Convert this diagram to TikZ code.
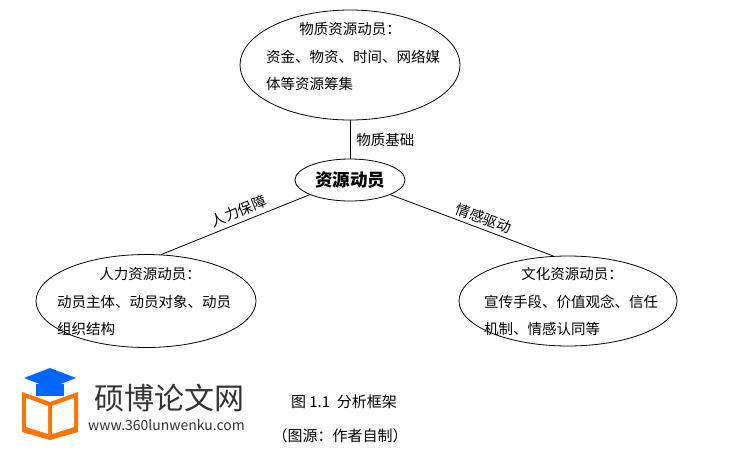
\documentclass[tikz,border=0pt]{standalone}
\usepackage{fontspec}
\setmainfont{Noto Sans CJK SC}
\usetikzlibrary{positioning,shapes.geometric}
\tikzset{res/.style={draw, thick, ellipse, inner sep=0pt}}
\tikzset{txt/.style={font=\fontsize{14.5pt}{16pt}\selectfont, inner sep=0pt, anchor=west}}
\tikzset{arr1/.style={draw, thick}}
\begin{document}
\begin{tikzpicture}[x=1pt,y=-1pt]
\useasboundingbox (0,0) rectangle (736,461);
\node[res, minimum width=220, minimum height=110] (M) at (350,65) {};
\node[res, minimum width=110, minimum height=42] (C) at (350,180) {\fontsize{17.5pt}{19pt}\selectfont\bfseries 资源动员};
\node[res, minimum width=220, minimum height=93] (H) at (146,301) {};
\node[res, minimum width=218, minimum height=90] (W) at (568,301) {};
% texts
\node[txt, anchor=center] (m1) at (350,29) {物质资源动员：};
\node[txt] (m2) at (266,57) {资金、物资、时间、网络媒};
\node[txt] (m3) at (266,84) {体等资源筹集};
\node[txt, anchor=center] (h1) at (150,274) {人力资源动员：};
\node[txt] (h2) at (57,302) {动员主体、动员对象、动员};
\node[txt] (h3) at (57,329) {组织结构};
\node[txt, anchor=center] (w1) at (572,274) {文化资源动员：};
\node[txt] (w2) at (484,302) {宣传手段、价值观念、信任};
\node[txt] (w3) at (484,329) {机制、情感认同等};
% connectors
\draw[arr1] (M) -- node[txt, right=6pt] {物质基础} (C);
\draw[arr1] (C.200) -- node[txt, anchor=south, sloped, above=4pt, pos=0.45] {人力保障} (H.72);
\draw[arr1] (C.340) -- node[txt, anchor=south, sloped, above=4pt, pos=0.55] {情感驱动} (W.108);
% caption
\node[txt, anchor=center, font=\fontsize{15pt}{17pt}\selectfont] (cap) at (344,402) {图 1.1\ \ 分析框架};
\node[txt, anchor=center, font=\fontsize{15pt}{17pt}\selectfont] (src) at (340,436) {（图源：作者自制）};
% watermark
\fill[orange!90!red] (22,392) -- (50,402) -- (78,392) -- (78,432) -- (50,440) -- (22,432) -- cycle;
\fill[white] (26,398) -- (48,406) -- (48,434) -- (26,427) -- cycle;
\fill[white] (74,398) -- (52,406) -- (52,434) -- (74,427) -- cycle;
\fill[blue!60!cyan] (24,378) -- (50,368) -- (76,378) -- (50,388) -- cycle;
\fill[blue!60!cyan] (36,384) rectangle (64,396);
\node[txt, font=\fontsize{30pt}{32pt}\selectfont, text=black!80] (wm) at (94,398) {硕博论文网};
\node[txt, font=\fontsize{14pt}{16pt}\selectfont, text=black!80] (url) at (88,425) {www.360lunwenku.com};
\end{tikzpicture}
\end{document}
